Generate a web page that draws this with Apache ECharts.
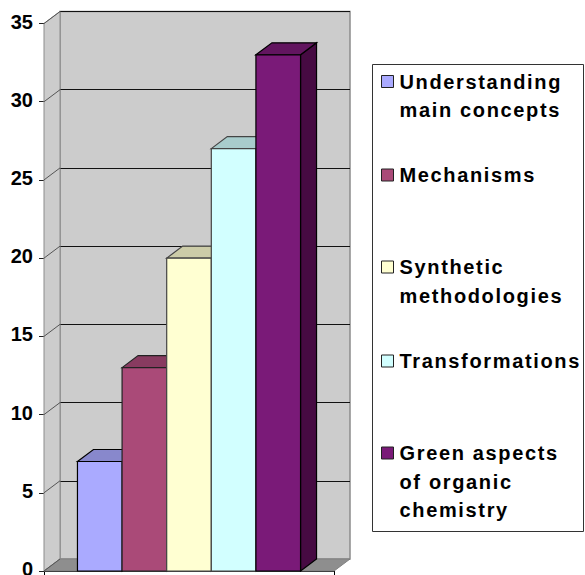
<!DOCTYPE html>
<html>
<head>
<meta charset="utf-8">
<style>
  html, body { margin: 0; padding: 0; background: #fff; }
  #chart { width: 585px; height: 575px; }
  /* wide tracking on the left-aligned legend text */
  #chart text[text-anchor="start"] { letter-spacing: 1.65px; }
</style>
<script src="https://cdn.jsdelivr.net/npm/echarts@6/dist/echarts.min.js"></script>
</head>
<body>
<div id="chart"></div>
<script>
const topicNames = [
  'Understanding main concepts',
  'Mechanisms',
  'Synthetic methodologies',
  'Transformations',
  'Green aspects of organic chemistry'
];
const topicLines = [
  ['Understanding', 'main concepts'],
  ['Mechanisms'],
  ['Synthetic', 'methodologies'],
  ['Transformations'],
  ['Green aspects', 'of organic', 'chemistry']
];
const topicValues = [7, 13, 20, 27, 33];
const yTicks = [0, 5, 10, 15, 20, 25, 30, 35];

const faceColors = ['#AAAAFF', '#AA4A78', '#FFFFD2', '#D2FFFF', '#7A1A78'];
const topColors = ['#8888CC', '#883B60', '#CCCCA8', '#A8CCCC', '#62155F'];
const sideColors = ['#66668F', '#662C48', '#99997E', '#7E9999', '#460A42'];
const edgeColors = ['#000', '#222', '#444', '#444', '#000'];

const FONT = '"Liberation Sans", Arial, sans-serif';
const DEPTH_X = 16, DEPTH_Y = 12;
const GAP_RATIO = 1.5;
const LEGEND_LINE = 28.5;
const legendRows = [81.5, 175, 267, 361, 453];

// One extruded column: side and top faces first, then the front face.
function columnRenderer(i) {
  return function (params, api) {
    const sys = params.coordSys;
    const barW = sys.width / (topicValues.length + GAP_RATIO);
    const x0 = sys.x + barW * (GAP_RATIO / 2 + i);
    const x1 = x0 + barW;
    const yT = api.coord([0, api.value(1)])[1];
    const yB = api.coord([0, 0])[1];
    const stroke = { stroke: edgeColors[i], lineWidth: 1.2 };
    return {
      type: 'group',
      children: [
        { type: 'polygon', shape: { points: [[x1, yT], [x1 + DEPTH_X, yT - DEPTH_Y], [x1 + DEPTH_X, yB - DEPTH_Y], [x1, yB]] },
          style: Object.assign({ fill: sideColors[i] }, stroke) },
        { type: 'polygon', shape: { points: [[x0, yT], [x0 + DEPTH_X, yT - DEPTH_Y], [x1 + DEPTH_X, yT - DEPTH_Y], [x1, yT]] },
          style: Object.assign({ fill: topColors[i] }, stroke) },
        { type: 'rect', shape: { x: x0, y: yT, width: x1 - x0, height: yB - yT },
          style: Object.assign({ fill: faceColors[i] }, stroke) }
      ]
    };
  };
}

// Left wall and floor of the box, with a diagonal at every tick level.
function renderWalls(params, api) {
  const sys = params.coordSys;
  const xL = sys.x, xR = sys.x + sys.width;
  const y = api.coord([0, api.value(1)])[1];
  const children = [];
  if (params.dataIndex === 0) {
    const yB = api.coord([0, yTicks[0]])[1];
    const yT = api.coord([0, yTicks[yTicks.length - 1]])[1];
    children.push(
      { type: 'polygon', shape: { points: [[xL, yB], [xL + DEPTH_X, yB - DEPTH_Y], [xL + DEPTH_X, yT - DEPTH_Y], [xL, yT]] },
        style: { fill: '#CCCCCC', stroke: '#8C8C8C', lineWidth: 1 } },
      { type: 'polygon', shape: { points: [[xL, yB], [xL + DEPTH_X, yB - DEPTH_Y], [xR + DEPTH_X, yB - DEPTH_Y], [xR, yB]] },
        style: { fill: '#8E8E8E', stroke: '#808080', lineWidth: 1 } }
    );
  }
  children.push({ type: 'line', shape: { x1: xL, y1: y, x2: xL + DEPTH_X, y2: y - DEPTH_Y },
    style: { stroke: '#555', lineWidth: 1 } });
  return { type: 'group', children: children };
}

const columnSeries = topicNames.map(function (name, i) {
  return {
    type: 'custom',
    name: name,
    xAxisIndex: 0,
    yAxisIndex: 0,
    z: 5 + i,
    clip: false,
    silent: true,
    itemStyle: { color: faceColors[i] },
    renderItem: columnRenderer(i),
    encode: { x: 0, y: 1 },
    data: [[0, topicValues[i]]]
  };
});

const legends = topicNames.map(function (name, i) {
  const lines = topicLines[i];
  const pad = lines.length - 1;
  const total = lines.length + pad;
  return {
    data: [name],
    orient: 'vertical',
    left: 381,
    top: legendRows[i] - total * LEGEND_LINE / 2,
    padding: 0,
    itemWidth: 12,
    itemHeight: 12,
    icon: 'rect',
    selectedMode: false,
    itemStyle: { borderColor: '#222', borderWidth: 1 },
    textStyle: {
      fontFamily: FONT, fontWeight: 'bold', fontSize: 20, color: '#000',
      lineHeight: LEGEND_LINE, padding: [0, 0, 0, 1]
    },
    // blank leading rows keep the swatch beside the first line of text
    formatter: function () {
      return new Array(pad).fill(' ').concat(lines).join('\n');
    }
  };
});

const chart = echarts.init(document.getElementById('chart'), null, { renderer: 'svg' });
chart.setOption({
  animation: false,
  backgroundColor: '#fff',
  legend: legends,
  grid: [
    { left: 44, top: 23.5, width: 290, height: 547.5, outerBoundsMode: 'none' },
    { left: 44 + DEPTH_X, top: 23.5 - DEPTH_Y, width: 290, height: 547.5, outerBoundsMode: 'none', show: true,
      backgroundColor: '#CCCCCC', borderColor: '#8C8C8C', borderWidth: 1.5 }
  ],
  xAxis: [
    { type: 'category', gridIndex: 0, data: [''],
      axisLine: { lineStyle: { color: '#000', width: 1 } },
      axisTick: { show: true, length: 4, lineStyle: { color: '#000' } },
      axisLabel: { show: false }, splitLine: { show: false } },
    { type: 'category', gridIndex: 1, data: [''], show: false }
  ],
  yAxis: [
    { type: 'value', gridIndex: 0, min: 0, max: 35, interval: 5,
      axisLine: { show: true, lineStyle: { color: '#555', width: 1 } },
      axisTick: { show: true, length: 5, lineStyle: { color: '#222' } },
      axisLabel: { fontFamily: FONT, fontWeight: 'bold', fontSize: 20, color: '#000', margin: 11,
        verticalAlign: 'bottom', lineHeight: 4 },
      splitLine: { show: false } },
    { type: 'value', gridIndex: 1, min: 0, max: 35, interval: 5,
      axisLine: { show: false }, axisTick: { show: false }, axisLabel: { show: false },
      splitLine: { show: true, lineStyle: { color: '#111', width: 1, type: 'solid' } } }
  ],
  series: [
    {
      type: 'custom',
      name: 'walls',
      xAxisIndex: 0,
      yAxisIndex: 0,
      z: 1,
      clip: false,
      silent: true,
      renderItem: renderWalls,
      encode: { x: 0, y: 1 },
      data: yTicks.map(function (t) { return [0, t]; })
    }
  ].concat(columnSeries),
  graphic: [
    { type: 'rect', z: -1, silent: true,
      shape: { x: 372.5, y: 64.5, width: 211, height: 467 },
      style: { fill: '#fff', stroke: '#333', lineWidth: 1 } }
  ]
});
</script>
</body>
</html>
